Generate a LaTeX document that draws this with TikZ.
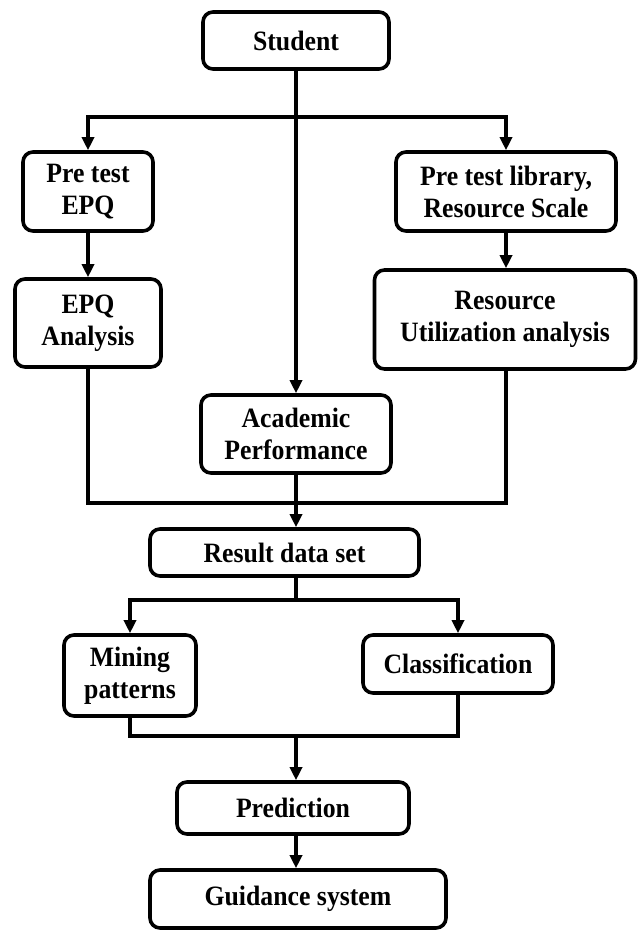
\documentclass[tikz,border=0pt]{standalone}
\usepackage{fontspec}
\setmainfont{Liberation Serif}[FakeStretch=0.92]
\usetikzlibrary{arrows.meta}

\begin{document}
\begin{tikzpicture}[x=1pt, y=-1pt, line width=3.6pt, >={Triangle[length=13pt,width=12pt]},
  stage/.style={draw, rounded corners=10pt, align=center, inner sep=0pt,
    font=\fontsize{28}{32}\selectfont\bfseries}]
\useasboundingbox (0,0) rectangle (638,931);

\node[stage, minimum width=186pt, minimum height=57pt] (student) at (296,40.5) {Student};
\node[stage, minimum width=130pt, minimum height=79pt] (pre) at (88,191.5) {Pre test\\EPQ};
\node[stage, minimum width=220pt, minimum height=79pt] (prelib) at (506,191.5) {Pre test library,\\Resource Scale};
\node[stage, minimum width=146pt, minimum height=88pt] (epq) at (88,323) {EPQ\\Analysis};
\node[stage, minimum width=261pt, minimum height=99pt] (resutil) at (505,319.5) {Resource\\Utilization analysis};
\node[stage, minimum width=190pt, minimum height=78pt] (acad) at (296,434) {Academic\\Performance};
\node[stage, minimum width=269pt, minimum height=47pt] (result) at (284.5,552.5) {Result data set};
\node[stage, minimum width=132pt, minimum height=81pt] (mining) at (130,675.5) {Mining\\patterns};
\node[stage, minimum width=190pt, minimum height=58pt] (classif) at (458,664) {Classification};
\node[stage, minimum width=232pt, minimum height=52pt] (predict) at (293,808) {Prediction};
\node[stage, minimum width=296pt, minimum height=58pt] (guide) at (298,899) {Guidance system};

% junction points
\coordinate (split) at (296,117);
\coordinate (merge) at (296,503);
\coordinate (fork) at (296,600);
\coordinate (join) at (296,736);

\draw[->] (student) -- (acad);
\draw[->] (split) -| (pre);
\draw[->] (split) -| (prelib.north);
\draw[->] (pre) -- (epq);
\draw[->] (prelib.south) -- (prelib.south |- resutil.north);

\draw (epq) |- (merge);
\draw (resutil.south -| prelib) |- (merge);
\draw[->] (merge |- acad.south) -- (merge |- result.north);

\draw (merge |- result.south) -- (fork);
\draw[->] (fork) -| (mining);
\draw[->] (fork) -| (classif);

\draw (mining) |- (join);
\draw (classif) |- (join);
\draw[->] (join) -- (join |- predict.north);
\draw[->] (join |- predict.south) -- (join |- guide.north);
\end{tikzpicture}
\end{document}
